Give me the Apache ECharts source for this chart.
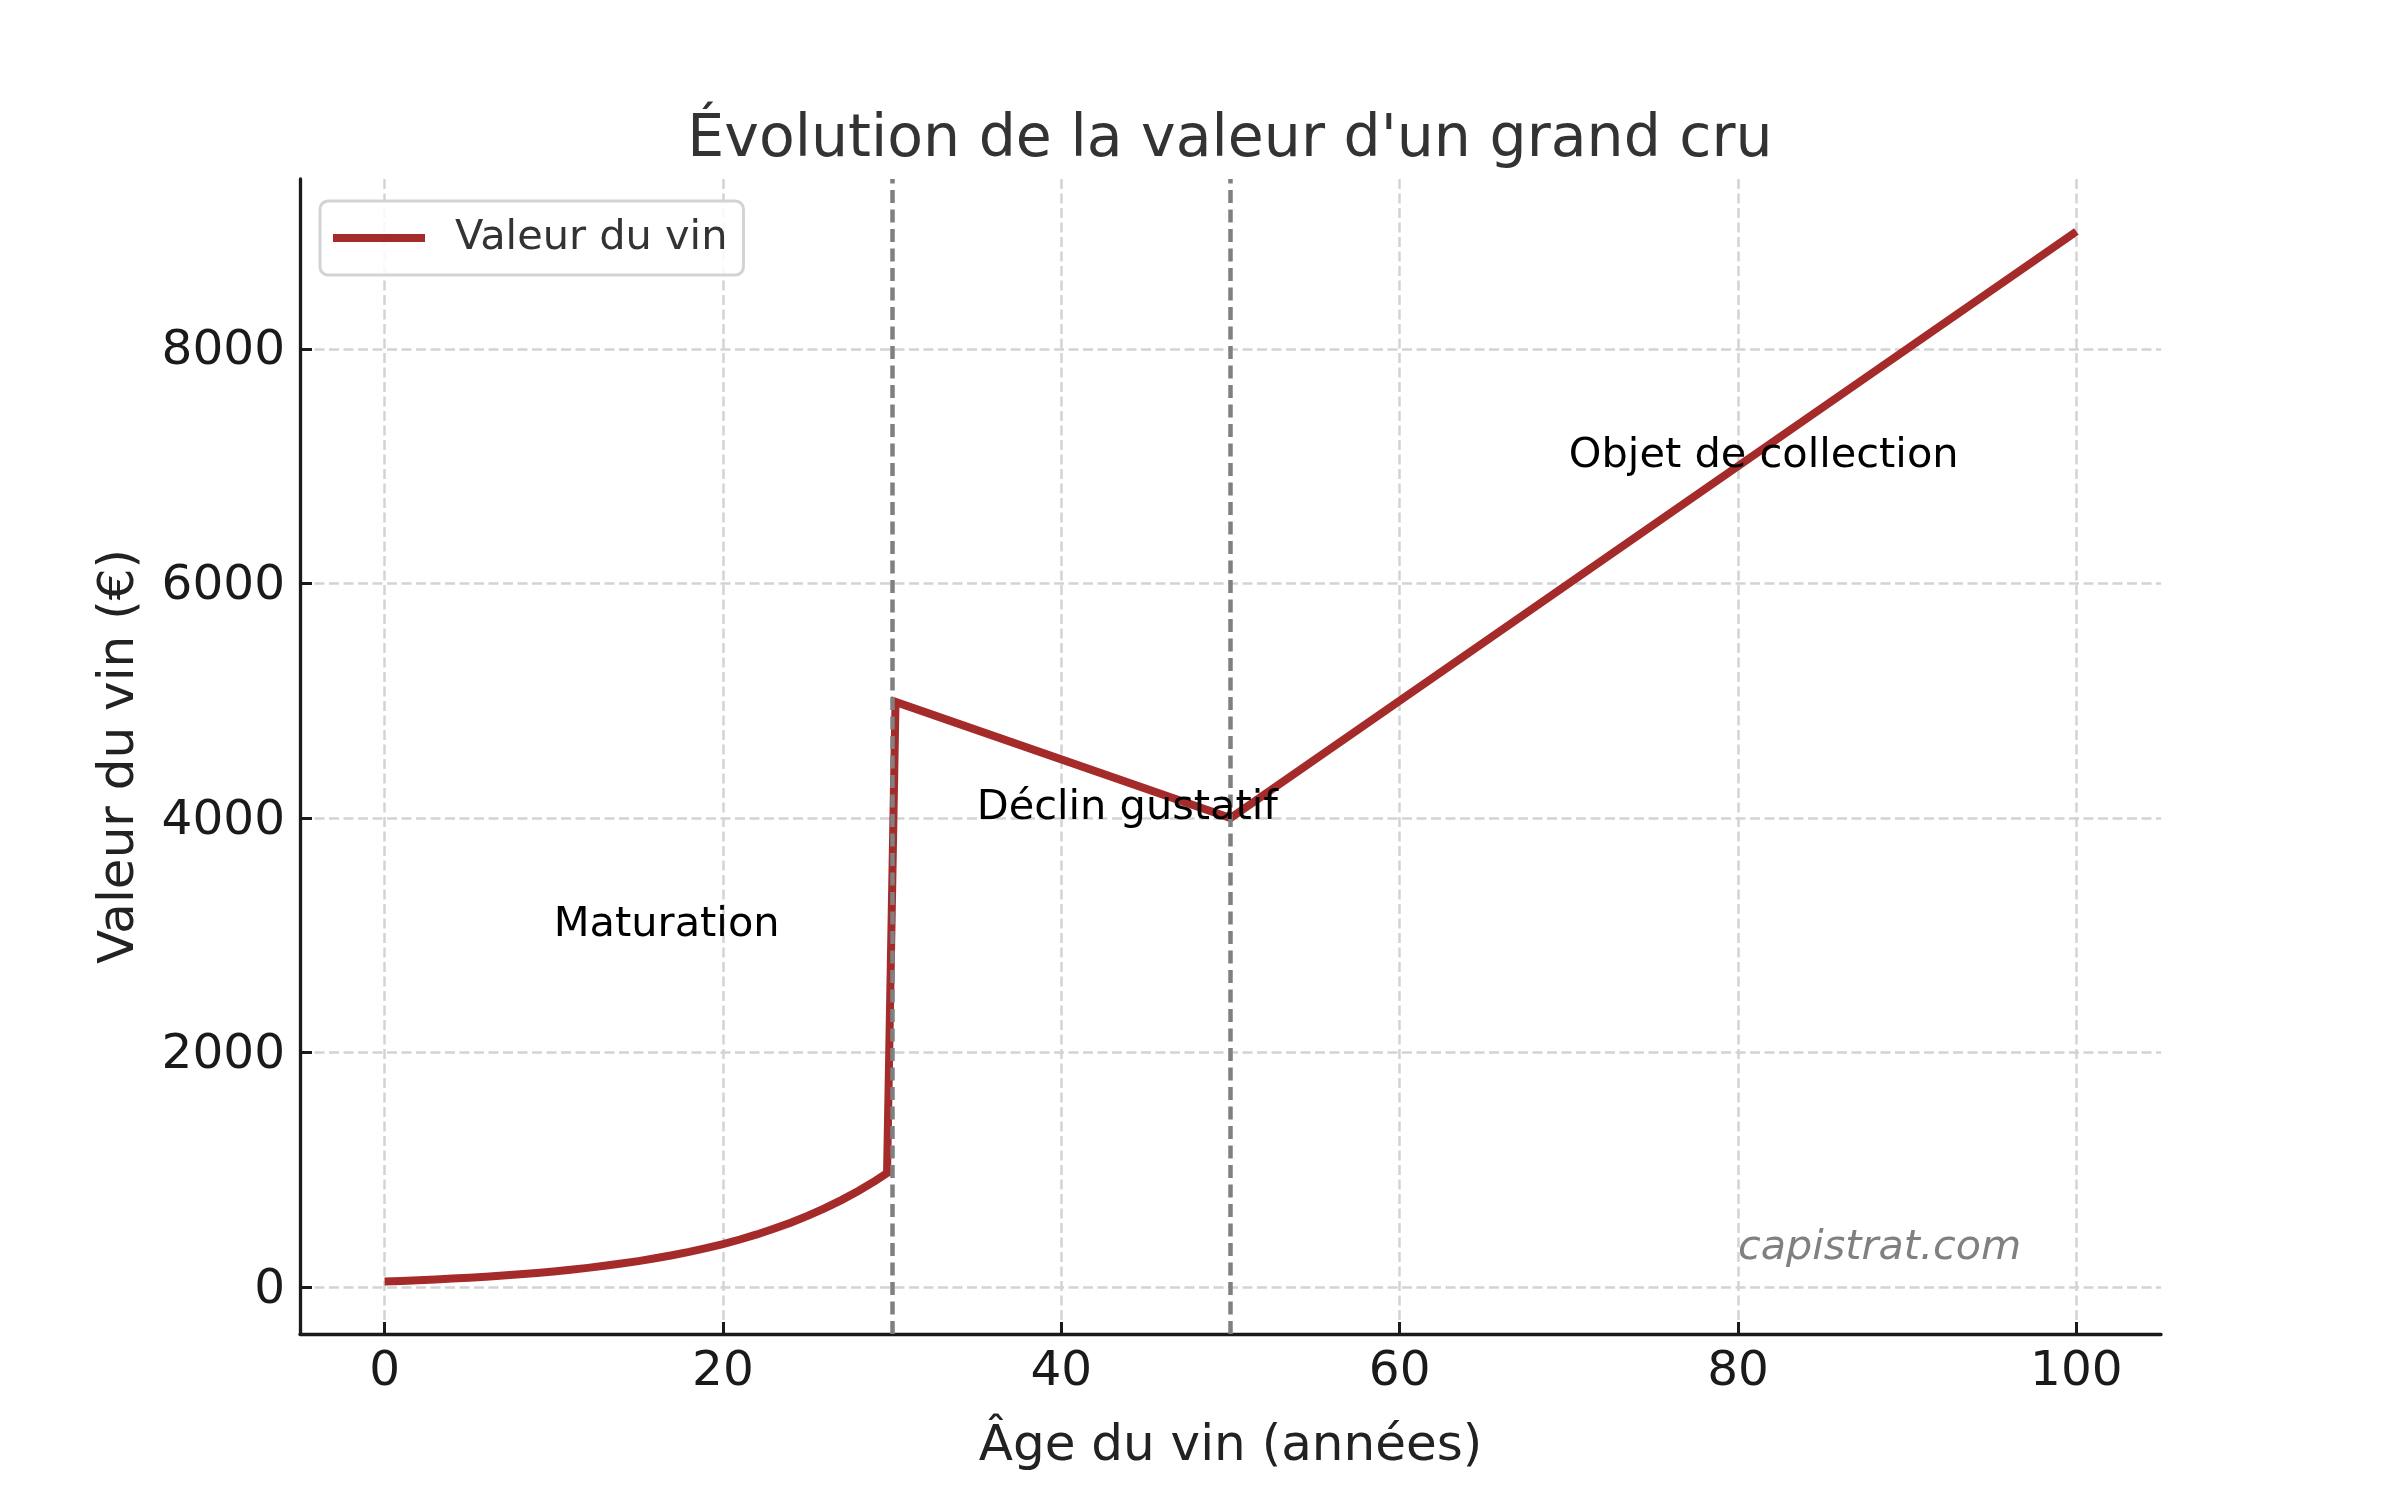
<!DOCTYPE html>
<html>
<head>
<meta charset="utf-8">
<script src="https://cdn.jsdelivr.net/npm/echarts@6/dist/echarts.min.js"></script>
<style>
html,body{margin:0;padding:0;background:#fff;}
#chart{width:2400px;height:1500px;}
</style>
</head>
<body>
<div id="chart"></div>
<script>
// ---- Data ----
const ages   = [0, 1, 2, 3, 4, 5, 6, 7, 8, 9, 10, 11, 12, 13, 14, 15, 16, 17, 18, 19, 20,
                21, 22, 23, 24, 25, 26, 27, 28, 29, 29.7, 30.2, 50, 100];
const values = [50, 55, 61, 67, 75, 82, 91, 101, 111, 123, 136, 150, 166, 184, 203, 224, 248, 274, 302, 334, 369,
                408, 451, 499, 551, 609, 673, 744, 822, 908, 975, 4990, 4000, 9000];
const seriesName = 'Valeur du vin';
const phaseLines = [30, 50];
const xTicks = [0, 20, 40, 60, 80, 100];
const yTicks = [0, 2000, 4000, 6000, 8000];
const annotations = [
  { text: 'Maturation', x: 10, y: 3000 },
  { text: 'Déclin gustatif', x: 35, y: 4000 },
  { text: 'Objet de collection', x: 70, y: 7000 }
];
const watermark = { text: 'capistrat.com', x: 80, y: 250 };
const titleText = "Évolution de la valeur d'un grand cru";
const xName = 'Âge du vin (années)';
const yName = 'Valeur du vin (€)';

const FONT = 'DejaVu Sans';
const chart = echarts.init(document.getElementById('chart'), null, {renderer: 'canvas'});

const axisCommon = {
  axisLine: {onZero: false, lineStyle: {color: '#1a1a1a', width: 3.3}},
  axisTick: {inside: true, length: 12, lineStyle: {color: '#1a1a1a', width: 3}},
  splitLine: {show: true, lineStyle: {color: '#d3d3d3', width: 2.5, type: [10, 4.5]}},
  nameLocation: 'middle',
  nameTextStyle: {fontFamily: FONT, fontSize: 50, color: '#222'}
};

const option = {
  backgroundColor: '#fff',
  animation: false,
  title: {
    text: titleText, left: 1230, top: 111, padding: 0, textAlign: 'center',
    textStyle: {fontFamily: FONT, fontSize: 58.5, fontWeight: 'normal', color: '#333'}
  },
  grid: {left: 300, right: 239, top: 179, bottom: 166, containLabel: false},
  legend: {
    left: 320, top: 201,
    data: [{name: seriesName, icon: 'rect'}],
    itemWidth: 92, itemHeight: 8,
    padding: [16, 16, 16, 13],
    backgroundColor: 'rgba(255,255,255,0.85)',
    borderColor: '#d3d3d3', borderWidth: 3, borderRadius: 8,
    textStyle: {fontFamily: FONT, fontSize: 41.5, color: '#333', padding: [0, 0, 0, 25]}
  },
  xAxis: Object.assign({}, axisCommon, {
    type: 'value', min: -5, max: 105,
    name: xName, nameGap: 88,
    axisTick: Object.assign({}, axisCommon.axisTick, {customValues: xTicks}),
    axisLabel: {customValues: xTicks, fontFamily: FONT, fontSize: 48.5, color: '#1a1a1a', margin: 14,
                formatter: v => String(v)}
  }),
  yAxis: Object.assign({}, axisCommon, {
    type: 'value', min: -397.5, max: 9447.5,
    name: yName, nameGap: 155,
    axisTick: Object.assign({}, axisCommon.axisTick, {customValues: yTicks}),
    axisLabel: {customValues: yTicks, fontFamily: FONT, fontSize: 48.5, color: '#1a1a1a', margin: 15,
                formatter: v => '{a|' + v + '}',
                rich: {a: {fontFamily: FONT, fontSize: 48.5, color: '#1a1a1a', padding: [6, 0, 0, 0]}}}
  }),
  series: [
    {
      name: seriesName, type: 'line', symbol: 'none', z: 3,
      data: ages.map((a, i) => [a, values[i]]),
      lineStyle: {color: '#a52a2a', width: 8, join: 'miter'},
      itemStyle: {color: '#a52a2a'}
    },
    {
      name: 'phases', type: 'line', data: [], z: 4,
      markLine: {
        silent: true, symbol: ['none', 'none'], label: {show: false},
        lineStyle: {color: '#808080', width: 4.5, type: [13, 6.5]},
        data: phaseLines.map(v => ({xAxis: v}))
      }
    }
  ]
};
chart.setOption(option);

// Text annotations anchored at data coordinates (baseline at the value)
function txt(item, style, dy) {
  const p = chart.convertToPixel({gridIndex: 0}, [item.x, item.y]);
  const fs = style.fontSize;
  return {
    type: 'text', left: p[0], top: p[1] - fs * 0.8 + (dy || 0), z: 10,
    style: Object.assign({text: item.text, fontFamily: FONT}, style)
  };
}
const graphics = annotations.map(a => txt(a, {fontSize: 41.5, fill: '#000'}, 2));
graphics.push(txt(watermark, {fontSize: 41.3, fill: '#808080', fontStyle: 'italic'}, 3));
chart.setOption({graphic: graphics});
</script>
</body>
</html>
